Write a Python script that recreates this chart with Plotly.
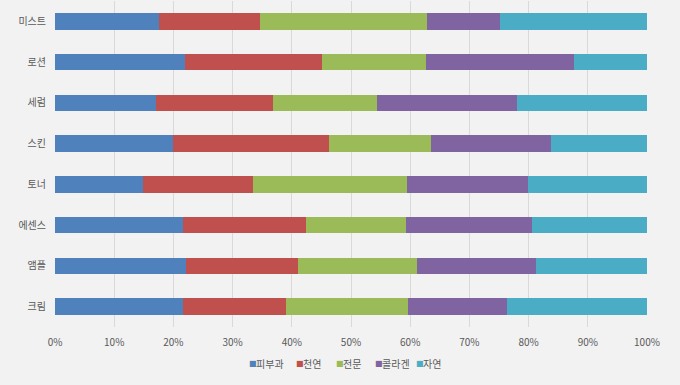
import plotly.graph_objects as go

categories = ["크림", "앰플", "에센스", "토너", "스킨", "세럼", "로션", "미스트"]
series_names = ["피부과", "천연", "전문", "콜라겐", "자연"]
# cumulative boundaries (percent)
blue_end   = [21.7, 22.2, 21.7, 14.8, 19.9, 17.1, 21.9, 17.6]
red_end    = [39.1, 41.1, 42.4, 33.5, 46.2, 36.9, 45.1, 34.7]
green_end  = [59.6, 61.2, 59.3, 59.4, 63.5, 54.4, 62.7, 62.9]
purple_end = [76.3, 81.2, 80.5, 79.9, 83.7, 78.1, 87.6, 75.2]
tick_vals = [0, 10, 20, 30, 40, 50, 60, 70, 80, 90, 100]
tick_text = ["0%", "10%", "20%", "30%", "40%", "50%", "60%", "70%", "80%", "90%", "100%"]

s1 = blue_end
s2 = [r - b for r, b in zip(red_end, blue_end)]
s3 = [g - r for g, r in zip(green_end, red_end)]
s4 = [p - g for p, g in zip(purple_end, green_end)]
s5 = [100 - p for p in purple_end]
series_values = [s1, s2, s3, s4, s5]
colors = ["#4f81bd", "#c0504d", "#9bbb59", "#8064a2", "#4bacc6"]

fig = go.Figure()
for name, vals, c in zip(series_names, series_values, colors):
    fig.add_trace(go.Bar(
        y=categories, x=vals, name=name, orientation="h",
        marker=dict(color=c, line=dict(width=0)),
        width=0.41, showlegend=False,
    ))

font_family = "Noto Sans CJK KR, Malgun Gothic, sans-serif"
txt_color = "#595959"

# custom compact legend (square marker + label)
legend_x = [247, 294, 334, 373, 414]
for name, c, lx in zip(series_names, colors, legend_x):
    fig.add_annotation(xref="paper", yref="paper", x=(lx - 55.3) / 591.7, y=-36.5 / 326,
                       text="■", showarrow=False, xanchor="left", yanchor="middle",
                       font=dict(size=8, color=c, family="DejaVu Sans"))
    fig.add_annotation(xref="paper", yref="paper", x=(lx + 7 - 55.3) / 591.7, y=-36.5 / 326,
                       text=name, showarrow=False, xanchor="left", yanchor="middle",
                       font=dict(size=10, color=txt_color, family=font_family))

fig.update_layout(
    barmode="stack",
    width=680, height=385,
    paper_bgcolor="#f2f2f2", plot_bgcolor="#f2f2f2",
    margin=dict(l=55.3, r=33, t=1, b=58, autoexpand=False),
    font=dict(family=font_family, size=10, color=txt_color),
    xaxis=dict(range=[0, 100], tickvals=tick_vals, ticktext=tick_text, showgrid=True,
               gridcolor="#d9d9d9", gridwidth=1, zeroline=False, automargin=False,
               showline=False, ticks="", ticklabelstandoff=8,
               tickfont=dict(size=10, color=txt_color)),
    yaxis=dict(showgrid=False, ticks="", showline=False, automargin=False,
               ticklabelstandoff=8, tickfont=dict(size=10, color=txt_color)),
    showlegend=False,
)
fig.write_html("out.html", config={"displayModeBar": False},
               post_script="document.body.style.margin='0px';document.body.style.background='#f2f2f2';")
